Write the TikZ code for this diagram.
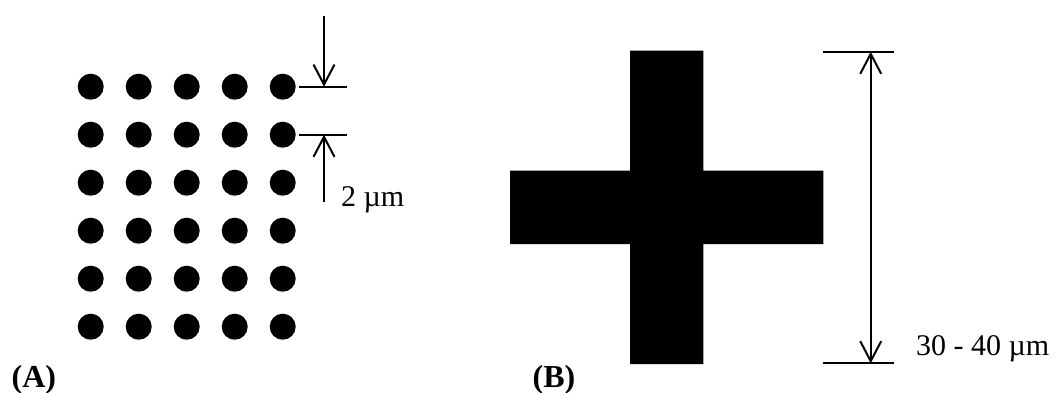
\documentclass[tikz,border=0pt]{standalone}
\usepackage{fontspec}
\setmainfont{Liberation Serif}
\usetikzlibrary{arrows.meta}

\tikzset{
    dimtext/.style={anchor=base west, inner sep=0pt, font=\fontsize{15}{18}\selectfont},
    panellabel/.style={anchor=base west, inner sep=0pt, font=\bfseries\fontsize{16}{19}\selectfont}
}

\begin{document}
\begin{tikzpicture}[x=0.5pt, y=0.5pt, >={Straight Barb[length=10pt, width=10.5pt]}, line width=1pt]
        \useasboundingbox (0,0) rectangle (1058,392);

        % Left: 5 x 6 array of dots
        \foreach \col in {0,...,4}
            \foreach \row in {0,...,5}
                \fill (90.7+48*\col, 305.3-48*\row) circle (13);

        % Pitch marks between the first two rows
        \coordinate (pitch_top_l) at (299,305.3);
        \coordinate (pitch_top_r) at (347,305.3);
        \coordinate (pitch_bot_l) at (299,257.3);
        \coordinate (pitch_bot_r) at (347,257.3);
        \draw (pitch_top_l) -- (pitch_top_r);
        \draw (pitch_bot_l) -- (pitch_bot_r);

        \coordinate (pitch_top) at (324,305.3);
        \coordinate (pitch_bot) at (324,257.3);
        \coordinate (pitch_from_top) at (324,376);
        \coordinate (pitch_from_bot) at (324,190.3);
        \draw[->] (pitch_from_top) -- (pitch_top);
        \draw[->] (pitch_from_bot) -- (pitch_bot);
        \node[dimtext] (pitch_label) at (340,186) {2 µm};

        % Right: cross
        \fill (630,28) -- (703.3,28) -- (703.3,148) -- (823.3,148) -- (823.3,221.3)
            -- (703.3,221.3) -- (703.3,341.3) -- (630,341.3) -- (630,221.3)
            -- (510,221.3) -- (510,148) -- (630,148) -- cycle;

        % Size marks of the cross
        \coordinate (size_top_l) at (823,340.3);
        \coordinate (size_top_r) at (894,340.3);
        \coordinate (size_bot_l) at (823,28.7);
        \coordinate (size_bot_r) at (894,28.7);
        \draw (size_top_l) -- (size_top_r);
        \draw (size_bot_l) -- (size_bot_r);

        \coordinate (size_top) at (870.7,340.3);
        \coordinate (size_bot) at (870.7,28.7);
        \draw[<->] (size_top) -- (size_bot);
        \node[dimtext] (size_label) at (915,37) {30 - 40 µm};

        % Panel labels
        \node[panellabel] (label_a) at (10.7,5) {(A)};
        \node[panellabel] (label_b) at (531.7,5) {(B)};

    \end{tikzpicture}
\end{document}
